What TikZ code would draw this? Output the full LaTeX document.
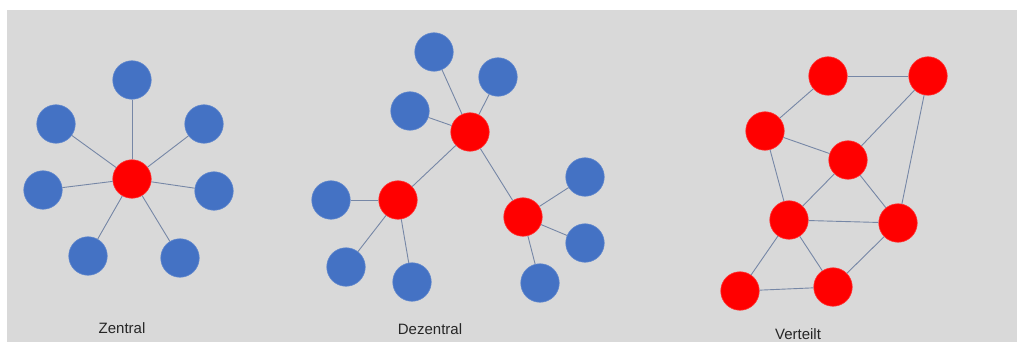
\documentclass[tikz,border=0pt]{standalone}
\usepackage{fontspec}
\setmainfont{Liberation Sans}
\definecolor{bg}{HTML}{D9D9D9}
\definecolor{nblue}{HTML}{4472C4}
\definecolor{nred}{HTML}{FF0000}
\definecolor{edgec}{HTML}{7687A6}
\tikzset{
  bnode/.style={circle, fill=nblue, draw=nblue!85!white, line width=0.6pt, minimum size=38.5pt, inner sep=0pt},
  rnode/.style={circle, fill=nred, draw=nred!80!white, line width=0.6pt, minimum size=38.5pt, inner sep=0pt},
  link/.style={draw=edgec, line width=0.9pt},
  lab/.style={font=\fontsize{15}{18}\selectfont, text=black!85}
}
\begin{document}
\begin{tikzpicture}[x=1pt,y=-1pt]
\useasboundingbox (0,0) rectangle (1020,342);
\fill[white] (0,0) rectangle (1020,342);
\fill[bg] (7,10) rectangle (1017,342);
% Zentral
\node[rnode] (zc) at (132,179) {};
\node[bnode] (z1) at (132,80) {};
\node[bnode] (z2) at (56,124) {};
\node[bnode] (z3) at (204,124) {};
\node[bnode] (z4) at (43,190) {};
\node[bnode] (z5) at (214,191) {};
\node[bnode] (z6) at (88,256) {};
\node[bnode] (z7) at (180,258) {};
\node[lab] (lz) at (122,328) {Zentral};
% Dezentral
\node[rnode] (dt) at (470,132) {};
\node[rnode] (dl) at (398,200) {};
\node[rnode] (dr) at (523,217) {};
\node[bnode] (d1) at (434,52) {};
\node[bnode] (d2) at (498,77) {};
\node[bnode] (d3) at (410,111) {};
\node[bnode] (d4) at (331,200) {};
\node[bnode] (d5) at (346,267) {};
\node[bnode] (d6) at (412,282) {};
\node[bnode] (d7) at (585,177) {};
\node[bnode] (d8) at (585,243) {};
\node[bnode] (d9) at (540,283) {};
\node[lab] (ld) at (430,329) {Dezentral};
% Verteilt
\node[rnode] (va) at (828,76) {};
\node[rnode] (vb) at (928,76) {};
\node[rnode] (vc) at (765,131) {};
\node[rnode] (vd) at (848,160) {};
\node[rnode] (ve) at (789,220) {};
\node[rnode] (vf) at (898,223) {};
\node[rnode] (vg) at (740,291) {};
\node[rnode] (vh) at (833,287) {};
\node[lab] (lv) at (798,334) {Verteilt};
% edges (drawn between node borders)
\foreach \a/\b in {zc/z1,zc/z2,zc/z3,zc/z4,zc/z5,zc/z6,zc/z7,
  dt/d1,dt/d2,dt/d3,dt/dl,dt/dr,dl/d4,dl/d5,dl/d6,dr/d7,dr/d8,dr/d9,
  va/vb,va/vc,vb/vd,vb/vf,vc/vd,vc/ve,vd/ve,vd/vf,ve/vf,ve/vg,ve/vh,vg/vh,vh/vf}
  \draw[link] (\a) -- (\b);
\end{tikzpicture}
\end{document}
